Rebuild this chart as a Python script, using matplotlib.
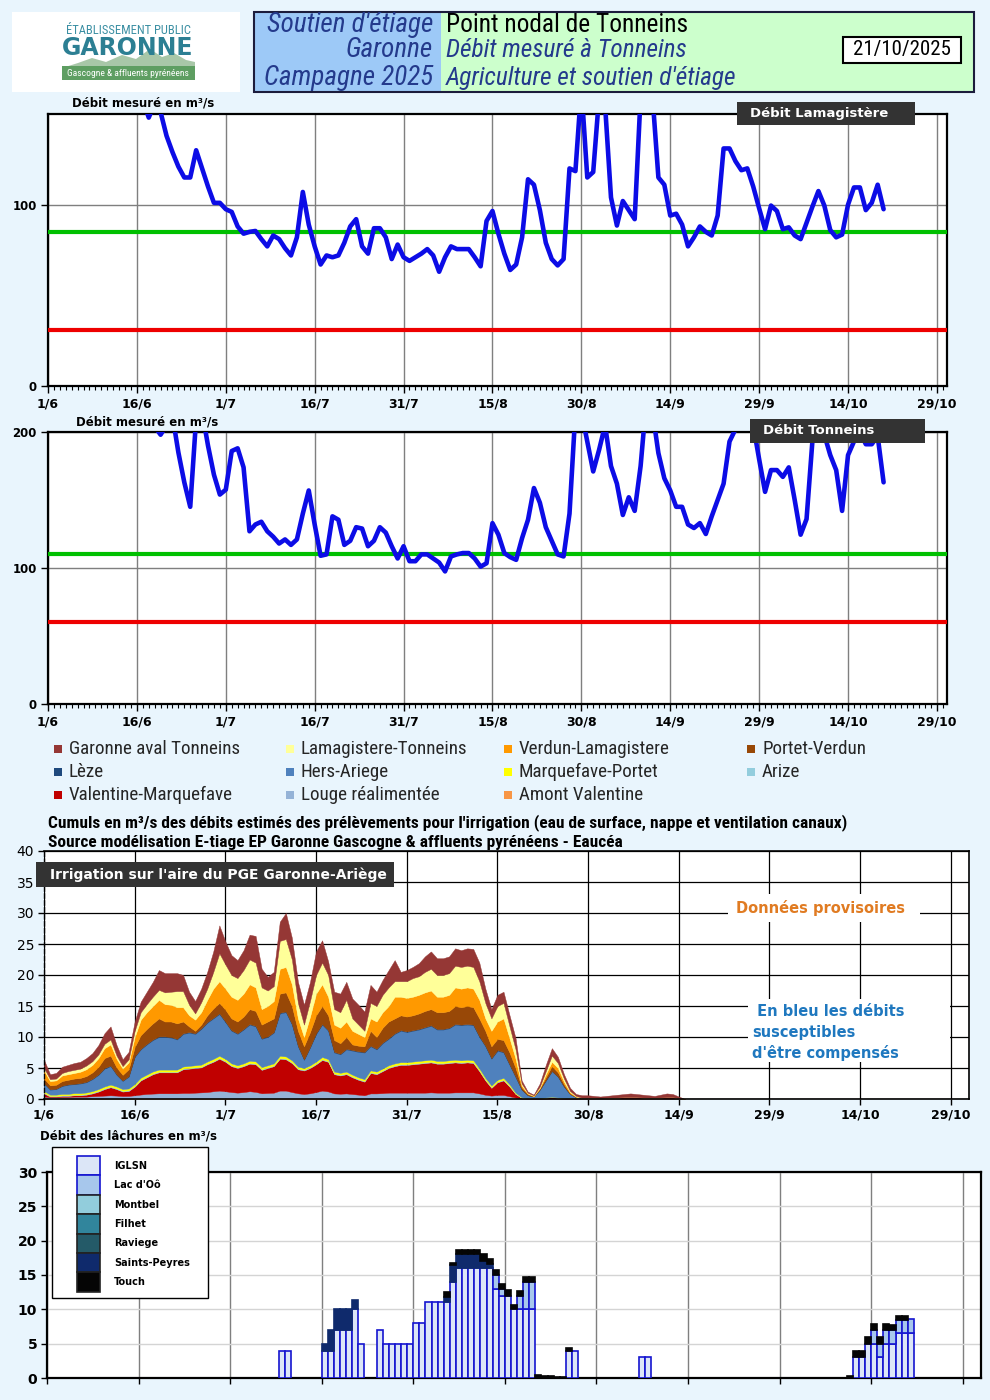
import numpy as np
import matplotlib
matplotlib.use("Agg")
import matplotlib.pyplot as plt
from matplotlib import font_manager
from matplotlib.patches import Rectangle, Polygon

W, H = 990, 1400
BG = "#e9f5fd"
plt.rcParams["font.family"] = ["DejaVu Sans"]

_available = {f.name for f in font_manager.fontManager.ttflist}


def pick_font(candidates, default="DejaVu Sans"):
    for c in candidates:
        if c in _available:
            return c
    return default


NARROW = [pick_font(["Liberation Sans Narrow", "Roboto Condensed", "PT Sans Narrow",
                     "Arial Narrow", "Open Sans Condensed"]), "DejaVu Sans"]

# *******************
# Axis dates (days after 1 June)
# *******************
date_ticks = [0, 15, 30, 45, 60, 75, 90, 105, 120, 135, 150]
date_labels = ["1/6", "16/6", "1/7", "16/7", "31/7", "15/8", "30/8",
               "14/9", "29/9", "14/10", "29/10"]

# *******************
# Measured flows (m3/s), one value per day from 1/6
# *******************
debit_lamagistere = [
    230, 225, 220, 215, 212, 205, 200, 195, 190, 185,
    180, 175, 172, 168, 165, 162, 158, 148, 156, 151,
    138, 129, 121, 115, 115, 130, 120, 110, 101, 101,
    97.5, 96, 88, 84, 85, 85.5, 81, 77, 83, 81,
    76, 72, 82, 107, 89, 77, 67, 72, 71, 72,
    79, 88, 92, 77, 73, 87, 87, 82, 70, 78,
    71, 69, 71, 73, 75.5, 72, 63, 71, 77, 75.5,
    75.5, 75.5, 71, 66, 91, 96.5, 84, 73, 64, 67,
    82, 114, 111, 97, 79, 70, 66.5, 70, 120, 118.5,
    165, 115, 118, 160, 155, 104, 88.5, 102, 97, 92,
    160, 175, 160, 115, 111, 94, 95, 89, 77, 82,
    88, 85, 83, 94, 131, 131, 124, 119, 120, 110,
    98, 86.5, 99.5, 96.5, 86.5, 87.5, 83, 81, 90, 99,
    107.5, 99.5, 86, 82, 83.5, 100, 109.5, 109.5, 97, 101,
    111, 97.5]
doe_lamagistere = 85
dcr_lamagistere = 31

debit_tonneins = [
    320, 315, 310, 300, 295, 290, 280, 275, 270, 260,
    255, 250, 245, 240, 235, 228, 222, 215, 204, 198,
    205, 212, 185, 163, 145, 210, 215, 190, 168.6, 154,
    157.6, 186, 188, 174, 127, 132, 134, 127, 123, 118,
    121, 117, 121, 140, 157, 132, 109, 110, 138, 135.5,
    117, 120, 130, 129, 116, 120, 130, 126, 116, 107,
    116, 105, 105, 110, 110, 107, 104, 97.5, 108.5, 110,
    111, 111, 107, 101, 103.5, 133, 124.5, 111, 108, 106,
    122, 135.5, 158.8, 148, 130, 120, 110, 108.5, 140, 215,
    215, 193, 171, 187, 205, 175, 162, 139, 152, 142,
    175, 225, 215, 184.5, 166, 157, 145, 145, 132, 129.4,
    133, 125, 138, 150, 162, 193, 202, 212, 215, 205,
    180, 156, 172, 172, 167, 174, 150, 124.5, 136, 194,
    215, 198, 183, 172, 142, 183, 193, 200, 191, 191,
    197, 163]
doe_tonneins = 110
dcr_tonneins = 60

# *******************
# Irrigation withdrawals (m3/s), cumulative levels read on the stacked chart
# *******************
irr_tot = [
    6.3, 4.0, 4.2, 5.2, 5.5, 5.8, 6.0, 6.6, 7.4, 8.7,
    10.6, 11.7, 8.7, 6.4, 7.6, 12.5, 15.7, 17.3, 18.9, 20.8,
    20.3, 20.3, 20.3, 20.0, 17.3, 15.8, 17.8, 20.5, 23.8, 28.0,
    25.4, 23.2, 22.4, 24.0, 26.5, 26.3, 21.0, 19.7, 20.5, 28.6,
    30.0, 26.0, 18.9, 15.2, 18.9, 23.8, 25.6, 22.2, 17.3, 17.0,
    18.9, 16.2, 15.2, 14.1, 18.4, 17.3, 19.2, 20.8, 22.4, 20.5,
    20.8, 21.3, 21.9, 23.0, 23.8, 22.7, 22.7, 23.0, 24.3, 24.0,
    24.3, 24.2, 22.0, 17.8, 14.5, 16.8, 17.3, 13.5, 9.8, 3.0,
    1.2, 0.7, 2.5, 5.5, 8.2, 6.8, 4.0, 1.8, 0.8, 0.6,
    0.6, 0.5, 0.4, 0.5, 0.6, 0.7, 0.8, 0.9, 0.8, 0.7,
    0.6, 0.5, 0.7, 0.9, 0.8, 0.4, 0.0]
top_lamagistere = [
    5.0, 3.2, 3.3, 4.2, 4.5, 4.7, 4.9, 5.4, 6.1, 7.2,
    8.9, 9.6, 7.0, 5.3, 6.4, 11.0, 14.0, 15.3, 16.5, 17.6,
    17.2, 17.3, 17.4, 17.4, 15.2, 13.8, 15.6, 17.8, 20.5, 23.5,
    21.7, 20.0, 19.5, 20.8, 22.5, 22.0, 18.0, 17.5, 18.2, 25.5,
    25.8, 22.5, 15.5, 12.0, 15.8, 20.0, 22.0, 20.0, 14.5, 14.0,
    16.0, 13.0, 12.0, 11.0, 15.5, 15.0, 16.8, 18.0, 19.0, 19.0,
    19.0, 19.5, 19.8, 20.5, 21.0, 20.0, 20.0, 20.3, 21.5, 21.3,
    21.5, 21.3, 19.0, 15.5, 13.0, 15.0, 15.5, 11.7, 8.0, 2.5,
    1.0, 0.6, 2.0, 4.5, 7.0, 5.8, 3.3, 1.3, 0.5, 0.2,
    0.2, 0.2, 0.15, 0.2, 0.2, 0.25, 0.3, 0.3, 0.3, 0.25,
    0.2, 0.2, 0.25, 0.3, 0.3, 0.15, 0.0]
top_verdun = [
    4.6, 2.9, 3.0, 3.8, 4.0, 4.2, 4.4, 4.8, 5.5, 6.6,
    8.2, 8.8, 6.5, 4.9, 5.9, 10.0, 12.8, 14.0, 15.0, 16.0,
    15.3, 15.2, 14.8, 14.8, 13.5, 12.8, 14.0, 16.0, 17.8, 19.0,
    17.8, 16.5, 16.0, 17.0, 18.5, 18.0, 14.5, 15.0, 15.8, 21.0,
    21.3, 18.5, 13.0, 10.0, 13.3, 17.0, 18.5, 16.5, 12.0, 11.5,
    12.5, 11.0, 10.5, 10.0, 13.0, 12.5, 14.0, 15.0, 16.5, 16.5,
    16.3, 16.5, 16.8, 17.2, 17.5, 16.5, 16.5, 16.8, 18.0, 17.8,
    18.0, 17.8, 16.0, 13.0, 11.0, 12.5, 13.0, 9.8, 6.5, 2.2,
    0.9, 0.5, 1.8, 4.0, 6.0, 5.0, 2.8, 1.1, 0.4, 0.2,
    0.2, 0.2, 0.15, 0.2, 0.2, 0.25, 0.3, 0.3, 0.3, 0.25,
    0.2, 0.2, 0.25, 0.3, 0.3, 0.15, 0.0]
top_portet = [
    3.3, 2.2, 2.3, 2.9, 3.1, 3.3, 3.4, 3.7, 4.3, 5.2,
    6.6, 7.0, 5.1, 3.9, 4.8, 8.4, 10.3, 11.3, 12.2, 13.0,
    12.5, 12.5, 12.2, 12.5, 11.7, 11.0, 12.0, 13.5, 14.6, 15.5,
    14.4, 13.0, 12.5, 13.3, 14.5, 14.2, 12.0, 12.5, 13.0, 17.0,
    17.2, 15.0, 11.0, 8.5, 10.8, 13.5, 15.0, 13.5, 9.5, 9.0,
    10.0, 8.8, 8.6, 8.5, 11.0, 10.0, 11.5, 12.5, 13.0, 13.5,
    13.3, 13.5, 13.8, 14.2, 14.5, 14.0, 14.0, 14.2, 15.0, 14.8,
    15.0, 14.8, 13.0, 11.0, 8.5, 9.7, 9.5, 7.5, 5.0, 1.9,
    0.8, 0.45, 1.7, 3.5, 5.3, 4.3, 2.4, 0.9, 0.35, 0.2,
    0.2, 0.2, 0.15, 0.2, 0.2, 0.25, 0.3, 0.3, 0.3, 0.25,
    0.2, 0.2, 0.25, 0.3, 0.3, 0.15, 0.0]
top_hers = [
    2.5, 1.5, 1.6, 2.1, 2.3, 2.4, 2.5, 2.7, 3.2, 3.9,
    4.9, 5.3, 3.9, 2.9, 3.6, 6.8, 8.0, 8.8, 9.5, 10.0,
    10.0, 9.9, 9.6, 10.5, 10.7, 10.5, 11.3, 12.3, 13.0, 13.7,
    12.4, 11.0, 10.5, 11.2, 12.0, 11.7, 9.7, 10.0, 10.7, 13.8,
    14.0, 12.0, 8.5, 6.3, 8.3, 10.5, 12.0, 11.0, 7.5, 7.2,
    8.0, 7.8, 7.6, 7.5, 8.5, 8.0, 9.0, 9.7, 10.5, 11.0,
    10.8, 11.0, 11.2, 11.5, 11.8, 11.2, 11.2, 11.4, 12.0, 11.9,
    12.0, 11.9, 10.0, 8.5, 6.5, 7.8, 7.5, 5.5, 3.5, 1.5,
    0.6, 0.4, 1.5, 3.0, 4.5, 3.6, 2.0, 0.8, 0.3, 0.2,
    0.2, 0.2, 0.15, 0.2, 0.2, 0.25, 0.3, 0.3, 0.3, 0.25,
    0.2, 0.2, 0.25, 0.3, 0.3, 0.15, 0.0]
top_valentine = [
    0.9, 0.4, 0.4, 0.5, 0.5, 0.6, 0.6, 0.7, 0.9, 1.2,
    1.6, 1.9, 1.6, 1.2, 1.3, 2.0, 3.0, 3.5, 4.0, 4.3,
    4.3, 4.3, 4.3, 4.8, 4.9, 5.0, 5.1, 5.6, 6.0, 6.5,
    6.0, 5.3, 5.0, 5.3, 5.7, 5.6, 4.7, 5.0, 5.3, 6.5,
    6.4, 5.8, 4.8, 4.6, 5.0, 5.6, 6.3, 6.0, 4.0, 3.8,
    4.0, 3.5, 3.1, 2.8, 4.2, 4.0, 4.5, 5.0, 5.3, 5.5,
    5.5, 5.6, 5.7, 5.8, 5.9, 5.7, 5.7, 5.8, 5.9, 5.8,
    5.9, 5.8, 4.5, 3.0, 1.8, 2.7, 3.0, 2.0, 0.8, 0.2,
    0.1, 0.1, 0.1, 0.2, 0.3, 0.2, 0.1, 0.1, 0.1, 0.2,
    0.2, 0.2, 0.15, 0.2, 0.2, 0.25, 0.3, 0.3, 0.3, 0.25,
    0.2, 0.2, 0.25, 0.3, 0.3, 0.15, 0.0]
# thin layers (thickness)
amont_valentine = [
    0.10, 0.08, 0.08, 0.08, 0.08, 0.08, 0.08, 0.08, 0.10, 0.10,
    0.10, 0.10, 0.10, 0.08, 0.10, 0.10, 0.12, 0.12, 0.12, 0.12,
    0.12, 0.12, 0.12, 0.12, 0.12, 0.12, 0.12, 0.12, 0.15, 0.15,
    0.15, 0.12, 0.12, 0.12, 0.15, 0.15, 0.12, 0.12, 0.12, 0.15,
    0.15, 0.12, 0.12, 0.10, 0.12, 0.12, 0.15, 0.12, 0.10, 0.10,
    0.10, 0.10, 0.10, 0.10, 0.10, 0.10, 0.10, 0.12, 0.12, 0.12,
    0.12, 0.12, 0.12, 0.12, 0.12, 0.12, 0.12, 0.12, 0.12, 0.12,
    0.12, 0.12, 0.10, 0.08, 0.05, 0.05, 0.05, 0.05, 0.03, 0.02,
    0.02, 0.02, 0.02, 0.02, 0.03, 0.02, 0.02, 0.02, 0.02, 0.05,
    0.05, 0.05, 0.05, 0.05, 0.05, 0.05, 0.05, 0.05, 0.05, 0.05,
    0.05, 0.05, 0.05, 0.05, 0.05, 0.03, 0.00]
louge = [
    0.30, 0.20, 0.20, 0.25, 0.25, 0.30, 0.30, 0.30, 0.35, 0.40,
    0.45, 0.50, 0.45, 0.40, 0.40, 0.50, 0.60, 0.70, 0.75, 0.80,
    0.80, 0.80, 0.80, 0.85, 0.85, 0.90, 0.95, 1.00, 1.10, 1.20,
    1.10, 1.00, 0.90, 1.00, 1.10, 1.00, 0.80, 0.85, 0.90, 1.20,
    1.20, 1.00, 0.80, 0.70, 0.80, 1.00, 1.20, 1.10, 0.80, 0.75,
    0.80, 0.70, 0.60, 0.50, 0.80, 0.80, 0.85, 0.90, 0.90, 0.90,
    0.90, 0.90, 0.90, 0.90, 0.95, 0.90, 0.90, 0.90, 0.95, 0.95,
    0.95, 0.95, 0.80, 0.60, 0.50, 0.60, 0.60, 0.40, 0.20, 0.05,
    0.03, 0.03, 0.03, 0.05, 0.08, 0.05, 0.03, 0.03, 0.03, 0.05,
    0.05, 0.05, 0.05, 0.05, 0.05, 0.05, 0.05, 0.05, 0.05, 0.05,
    0.05, 0.05, 0.05, 0.05, 0.05, 0.05, 0.00]
arize = [
    0.12, 0.10, 0.10, 0.10, 0.10, 0.10, 0.10, 0.10, 0.12, 0.12,
    0.12, 0.12, 0.12, 0.12, 0.12, 0.12, 0.12, 0.12, 0.12, 0.12,
    0.12, 0.12, 0.12, 0.12, 0.12, 0.12, 0.12, 0.12, 0.12, 0.12,
    0.12, 0.12, 0.12, 0.12, 0.12, 0.12, 0.12, 0.12, 0.12, 0.12,
    0.12, 0.12, 0.12, 0.12, 0.12, 0.12, 0.12, 0.12, 0.12, 0.12,
    0.12, 0.12, 0.12, 0.12, 0.12, 0.12, 0.12, 0.12, 0.12, 0.12,
    0.12, 0.12, 0.12, 0.12, 0.12, 0.12, 0.12, 0.12, 0.12, 0.12,
    0.12, 0.12, 0.12, 0.12, 0.12, 0.12, 0.12, 0.10, 0.06, 0.03,
    0.02, 0.02, 0.02, 0.02, 0.02, 0.02, 0.02, 0.02, 0.02, 0.00,
    0.00, 0.00, 0.00, 0.00, 0.00, 0.00, 0.00, 0.00, 0.00, 0.00,
    0.00, 0.00, 0.00, 0.00, 0.00, 0.00, 0.00]
marquefave = [
    0.25, 0.20, 0.20, 0.22, 0.22, 0.25, 0.25, 0.25, 0.25, 0.28,
    0.30, 0.30, 0.30, 0.28, 0.28, 0.30, 0.32, 0.32, 0.32, 0.32,
    0.32, 0.32, 0.32, 0.32, 0.32, 0.32, 0.32, 0.32, 0.35, 0.35,
    0.35, 0.32, 0.32, 0.32, 0.35, 0.35, 0.32, 0.32, 0.32, 0.35,
    0.35, 0.32, 0.30, 0.28, 0.30, 0.32, 0.35, 0.32, 0.30, 0.30,
    0.30, 0.30, 0.28, 0.28, 0.30, 0.30, 0.30, 0.32, 0.32, 0.32,
    0.32, 0.32, 0.32, 0.32, 0.32, 0.32, 0.32, 0.32, 0.32, 0.32,
    0.32, 0.32, 0.30, 0.28, 0.25, 0.28, 0.28, 0.25, 0.15, 0.05,
    0.03, 0.03, 0.03, 0.03, 0.03, 0.03, 0.03, 0.03, 0.03, 0.00,
    0.00, 0.00, 0.00, 0.00, 0.00, 0.00, 0.00, 0.00, 0.00, 0.00,
    0.00, 0.00, 0.00, 0.00, 0.00, 0.00, 0.00]
leze = [
    0.08, 0.06, 0.06, 0.06, 0.06, 0.06, 0.06, 0.08, 0.08, 0.08,
    0.10, 0.10, 0.08, 0.08, 0.08, 0.10, 0.10, 0.10, 0.10, 0.10,
    0.10, 0.10, 0.10, 0.10, 0.10, 0.10, 0.10, 0.10, 0.10, 0.12,
    0.10, 0.10, 0.10, 0.10, 0.10, 0.10, 0.10, 0.10, 0.10, 0.12,
    0.12, 0.10, 0.10, 0.10, 0.10, 0.10, 0.10, 0.10, 0.10, 0.10,
    0.10, 0.10, 0.10, 0.10, 0.10, 0.10, 0.10, 0.10, 0.10, 0.10,
    0.10, 0.10, 0.10, 0.10, 0.10, 0.10, 0.10, 0.10, 0.10, 0.10,
    0.10, 0.10, 0.10, 0.10, 0.10, 0.10, 0.10, 0.10, 0.10, 0.05,
    0.02, 0.02, 0.02, 0.02, 0.02, 0.02, 0.02, 0.02, 0.02, 0.00,
    0.00, 0.00, 0.00, 0.00, 0.00, 0.00, 0.00, 0.00, 0.00, 0.00,
    0.00, 0.00, 0.00, 0.00, 0.00, 0.00, 0.00]

# legend order of the irrigation chart (top of stack first)
zone_names = ["Garonne aval Tonneins", "Lamagistere-Tonneins", "Verdun-Lamagistere",
              "Portet-Verdun", "Lèze", "Hers-Ariege", "Marquefave-Portet", "Arize",
              "Valentine-Marquefave", "Louge réalimentée", "Amont Valentine"]
zone_colors = ["#953735", "#ffff99", "#ff9900", "#984807", "#1f497d", "#4f81bd",
               "#ffff00", "#93cddd", "#c00000", "#95b3d7", "#f79646"]

# *******************
# Reservoir releases (m3/s)
# *******************
lache_days = [38, 39, 45, 46, 47, 48, 49, 50, 51,
              54, 55, 56, 57, 58, 59, 60, 61, 62, 63, 64, 65, 66, 67, 68, 69, 70,
              71, 72, 73, 74, 75, 76, 77, 78, 79, 80, 81, 82, 83, 84, 85, 86,
              97, 98, 131, 132, 133, 134, 135, 136, 137, 138, 139, 140, 141]
lache_iglsn = [4, 4, 4, 4, 7, 7, 7, 10, 5,
               7, 5, 5, 5, 5, 5, 8, 8, 11, 11, 11, 11, 14, 16, 16, 16, 16,
               16, 16, 13, 12, 12, 10, 10, 10, 10, 0, 0, 0, 0, 0, 4, 4,
               3, 3, 0, 3, 3, 5, 5, 3, 5, 5, 6.6, 6.6, 6.6]
lache_lac_oo = [0, 0, 0, 0, 0, 0, 0, 0, 0,
                0, 0, 0, 0, 0, 0, 0, 0, 0, 0, 0, 0, 0, 0, 0, 0, 0,
                0, 0, 2, 1, 0, 0, 1.9, 4, 4, 0, 0, 0, 0, 0, 0, 0,
                0, 0, 0, 0, 0, 0, 2, 2, 2, 2, 1.8, 1.8, 2.0]
lache_saints_peyres = [0, 0, 1, 3, 3, 3, 3, 1.3, 0,
                       0, 0, 0, 0, 0, 0, 0, 0, 0, 0, 0, 0.8, 2.5, 2, 2, 2, 2,
                       1.1, 0.65, 0, 0, 0, 0, 0, 0, 0, 0, 0, 0, 0, 0, 0, 0,
                       0, 0, 0, 0, 0, 0, 0, 0, 0, 0, 0, 0, 0]
lache_touch = [0, 0, 0, 0, 0, 0, 0, 0, 0,
               0, 0, 0, 0, 0, 0, 0, 0, 0, 0, 0, 0.7, 0.3, 0.7, 0.7, 0.7, 0.7,
               0.9, 0.75, 0.7, 0.7, 0.8, 0.7, 0.8, 0.7, 0.7, 0.4, 0.3, 0.25, 0.2, 0.2, 0.4, 0,
               0, 0, 0.3, 0.9, 0.9, 1.0, 0.9, 1.0, 0.9, 0.7, 0.6, 0.6, 0]
reservoirs = ["IGLSN", "Lac d'Oô", "Montbel", "Filhet", "Raviege", "Saints-Peyres", "Touch"]
reservoir_colors = ["#dce6f7", "#a7c7ec", "#92cddc", "#31859c", "#245a68", "#0f2a6c", "#050505"]


# *******************
# helpers, all positions in pixels of the 990x1400 picture
# *******************
def frame(x0, y0, x1, y1):
    return [x0 / W, 1 - y1 / H, (x1 - x0) / W, (y1 - y0) / H]


def add_rect(fig, x0, y0, x1, y1, **kw):
    r = Rectangle((x0 / W, 1 - y1 / H), (x1 - x0) / W, (y1 - y0) / H,
                  transform=fig.transFigure, **kw)
    fig.add_artist(r)
    return r


def add_text(fig, x, y, s, **kw):
    kw.setdefault("va", "center")
    return fig.text(x / W, 1 - y / H, s, **kw)


def format_date_axis(ax, xmax, labels=True):
    ax.set_xlim(0, xmax)
    ax.set_xticks(date_ticks)
    if labels:
        ax.set_xticklabels(date_labels, fontweight="bold", fontsize=9)
    else:
        ax.set_xticklabels([])


def plot_flow(ax, values, doe, dcr, ymax, yticks):
    days = np.arange(len(values))
    ax.plot(days, values, color="#0c0ce6", lw=3.3, solid_joinstyle="round",
            solid_capstyle="round", zorder=4)
    ax.axhline(doe, color="#00c000", lw=3, zorder=3)
    ax.axhline(dcr, color="#ee0000", lw=3, zorder=3)
    ax.set_ylim(0, ymax)
    ax.set_yticks(yticks)
    ax.set_yticklabels([str(v) for v in yticks], fontweight="bold", fontsize=8.5)
    format_date_axis(ax, 151.7)
    ax.set_xticks(np.arange(0, 152), minor=True)
    ax.grid(True, which="major", color="#7f7f7f", lw=1)
    ax.tick_params(which="major", direction="out", length=5, width=1, pad=3)
    ax.tick_params(axis="x", which="minor", direction="out", length=3, width=0.8)
    for s in ax.spines.values():
        s.set_linewidth(1.6)


fig = plt.figure(figsize=(W / 100, H / 100), dpi=100, facecolor=BG)

# *******************
# Header
# *******************
add_rect(fig, 12, 12, 240, 92, facecolor="white", edgecolor="none")
add_text(fig, 128, 31, "ÉTABLISSEMENT PUBLIC", ha="center", color="#3b8fa3",
         fontsize=9, family=NARROW)
add_text(fig, 128, 48, "GARONNE", ha="center", color="#2c7f93", fontsize=17,
         fontweight="bold")
mountains = np.array([[62, 68], [78, 63], [92, 58], [106, 62], [122, 55], [136, 59],
                      [150, 49], [162, 57], [174, 53], [186, 60], [195, 62], [195, 68]])
fig.add_artist(Polygon(np.column_stack([mountains[:, 0] / W, 1 - mountains[:, 1] / H]),
                       closed=True, transform=fig.transFigure, facecolor="#a8c7a8",
                       edgecolor="none"))
add_rect(fig, 62, 66, 195, 80, facecolor="#5e9e62", edgecolor="none")
add_text(fig, 128, 73, "Gascogne & affluents pyrénéens", ha="center", color="white",
         fontsize=6.8, family=NARROW)

add_rect(fig, 254, 12, 441, 92, facecolor="#9dc9f7", edgecolor="none")
add_rect(fig, 441, 12, 974, 92, facecolor="#ccffcc", edgecolor="none")
add_rect(fig, 254, 12, 974, 92, facecolor="none", edgecolor="#1c1c3c", lw=1.5)
navy = "#243a8c"
for y, s in zip([25, 50, 78], ["Soutien d'étiage", "Garonne", "Campagne 2025"]):
    add_text(fig, 433, y, s, ha="right", color=navy, fontsize=19.5, style="italic",
             family=NARROW)
add_text(fig, 446, 25, "Point nodal de Tonneins", color="black", fontsize=18.3,
         family=NARROW)
add_text(fig, 446, 50, "Débit mesuré à Tonneins", color=navy, fontsize=18.3,
         style="italic", family=NARROW)
add_text(fig, 446, 78, "Agriculture et soutien d'étiage", color=navy, fontsize=18.3,
         style="italic", family=NARROW)
add_rect(fig, 843, 37, 961, 63, facecolor="white", edgecolor="black", lw=1.5)
add_text(fig, 902, 50, "21/10/2025", ha="center", color="black", fontsize=15, family=NARROW)

# *******************
# Panel 1 : Lamagistère
# *******************
ax1 = fig.add_axes(frame(48, 114, 947, 386))
plot_flow(ax1, debit_lamagistere, doe_lamagistere, dcr_lamagistere, 150, [0, 100])
add_text(fig, 72, 103, "Débit mesuré en m³/s", fontweight="bold", fontsize=8.5)
add_rect(fig, 737, 102, 915, 125, facecolor="#333333", edgecolor="none", zorder=5)
add_text(fig, 750, 114, "Débit Lamagistère", color="white", fontweight="bold",
         fontsize=9.5, zorder=6)

# *******************
# Panel 2 : Tonneins
# *******************
ax2 = fig.add_axes(frame(48, 432, 947, 704))
plot_flow(ax2, debit_tonneins, doe_tonneins, dcr_tonneins, 200, [0, 100, 200])
add_text(fig, 76, 422, "Débit mesuré en m³/s", fontweight="bold", fontsize=8.5)
add_rect(fig, 750, 419, 925, 443, facecolor="#333333", edgecolor="none", zorder=5)
add_text(fig, 763, 431, "Débit Tonneins", color="white", fontweight="bold",
         fontsize=9.5, zorder=6)

# *******************
# Legend of the irrigation zones (row by row)
# *******************
legend_cols = [58, 290, 508, 751]
legend_rows = [749, 772, 795]
for i, (name, color) in enumerate(zip(zone_names, zone_colors)):
    r, c = divmod(i, 4)
    x, y = legend_cols[c], legend_rows[r]
    add_rect(fig, x - 4, y - 4, x + 4, y + 4, facecolor=color, edgecolor="none")
    add_text(fig, x + 11, y, name, color="#262626", fontsize=13.7, family=NARROW)

add_text(fig, 48, 823, "Cumuls en m³/s des débits estimés des prélèvements pour "
         "l'irrigation (eau de surface, nappe et ventilation canaux)",
         fontweight="bold", fontsize=12.5, family=NARROW)
add_text(fig, 48, 842, "Source modélisation E-tiage EP Garonne Gascogne & affluents "
         "pyrénéens - Eaucéa", fontweight="bold", fontsize=12.5, family=NARROW)

# *******************
# Panel 3 : irrigation withdrawals (stacked)
# *******************
ax3 = fig.add_axes(frame(44, 851, 969, 1099))
irr_days = np.arange(len(irr_tot))
amont_top = np.array(amont_valentine)
louge_top = amont_top + np.array(louge)
valentine_top = np.array(top_valentine)
arize_top = valentine_top + np.array(arize)
marquefave_top = arize_top + np.array(marquefave)
hers_top = np.array(top_hers)
leze_top = hers_top + np.array(leze)
levels = np.vstack([amont_top, louge_top, valentine_top, arize_top, marquefave_top,
                    hers_top, leze_top, np.array(top_portet), np.array(top_verdun),
                    np.array(top_lamagistere), np.array(irr_tot)])
thickness = np.clip(np.diff(levels, axis=0, prepend=0), 0, None)
polys = ax3.stackplot(irr_days, thickness, colors=zone_colors[::-1], zorder=2)
for p, col in zip(polys, zone_colors[::-1]):
    p.set_edgecolor(col)
    p.set_linewidth(0.3)
ax3.set_ylim(0, 40)
ax3.set_yticks(range(0, 41, 5))
ax3.set_yticklabels([str(v) for v in range(0, 41, 5)], fontsize=10)
format_date_axis(ax3, 153)
ax3.grid(True, color="black", lw=0.9)
ax3.set_axisbelow(True)
ax3.tick_params(direction="out", length=4, width=1, pad=3)
for s in ax3.spines.values():
    s.set_linewidth(1.2)
ax3.spines["left"].set_linestyle((0, (3, 2)))
ax3.spines["left"].set_linewidth(1)

add_rect(fig, 36, 862, 394, 887, facecolor="#333333", edgecolor="none", zorder=5)
add_text(fig, 50, 875, "Irrigation sur l'aire du PGE Garonne-Ariège", color="white",
         fontweight="bold", fontsize=10, zorder=6)
add_rect(fig, 728, 894, 920, 922, facecolor="white", edgecolor="none", zorder=5)
add_text(fig, 820, 908, "Données provisoires", ha="center", color="#e07b22",
         fontweight="bold", fontsize=10.5, zorder=6)
add_rect(fig, 748, 999, 950, 1062, facecolor="white", edgecolor="none", zorder=5)
for y, s in zip([1012, 1033, 1053], [" En bleu les débits", "susceptibles",
                                      "d'être compensés"]):
    add_text(fig, 752, y, s, color="#1f78bf", fontweight="bold", fontsize=10.5, zorder=6)

# *******************
# Panel 4 : reservoir releases
# *******************
ax4 = fig.add_axes(frame(47, 1172, 981, 1378))
days = np.array(lache_days)
series = [np.array(lache_iglsn, float), np.array(lache_lac_oo, float),
          np.array(lache_saints_peyres, float), np.array(lache_touch, float)]
series_style = [(reservoir_colors[0], "#1515d0"), (reservoir_colors[1], "#1515d0"),
                (reservoir_colors[5], reservoir_colors[5]), (reservoir_colors[6], "#050505")]
bottom = np.zeros(len(days))
for vals, (fc, ec) in zip(series, series_style):
    m = vals > 0
    ax4.bar(days[m], vals[m], width=1, bottom=bottom[m], align="edge",
            facecolor=fc, edgecolor=ec, lw=1.2, zorder=3)
    bottom = bottom + vals
ax4.set_ylim(0, 30)
ax4.set_yticks(range(0, 31, 5))
ax4.set_yticklabels([str(v) for v in range(0, 31, 5)], fontsize=10, fontweight="bold")
format_date_axis(ax4, 153, labels=False)
ax4.grid(True, axis="y", color="#d4d4d4", lw=1)
ax4.grid(True, axis="x", color="#7f7f7f", lw=1)
ax4.set_axisbelow(True)
ax4.tick_params(direction="out", length=4, width=1, pad=3)
for s in ax4.spines.values():
    s.set_linewidth(1.6)
add_text(fig, 40, 1136, "Débit des lâchures en m³/s", fontweight="bold", fontsize=8.5)

# legend of the reservoirs
add_rect(fig, 52, 1147, 208, 1298, facecolor="white", edgecolor="black", lw=1, zorder=5)
for i, (name, color) in enumerate(zip(reservoirs, reservoir_colors)):
    y0 = 1156 + i * 19.4
    ec = "#1515d0" if i < 2 else "#222222"
    add_rect(fig, 77, y0, 100, y0 + 19.4, facecolor=color, edgecolor=ec, lw=1.2, zorder=6)
    add_text(fig, 114, y0 + 9.7, name, fontweight="bold", fontsize=7, zorder=7)

fig.savefig("out.png", dpi=100, facecolor=BG)
